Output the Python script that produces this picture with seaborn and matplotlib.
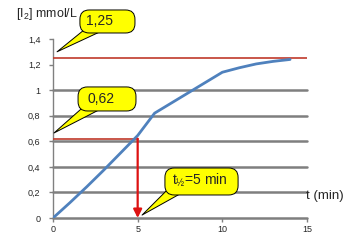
import matplotlib
matplotlib.use("Agg")
import matplotlib.pyplot as plt
from matplotlib.patches import FancyBboxPatch
import seaborn as sns
import pandas as pd

# data
t_min = [0, 1, 2, 3, 4, 5, 6, 7, 8, 9, 10, 11, 12, 13, 14]
iodine = [0, 0.12, 0.245, 0.375, 0.51, 0.645, 0.82, 0.90, 0.98, 1.06, 1.14, 1.175, 1.205, 1.225, 1.24]
c_max = 1.25
c_half = 0.62
t_half = 5
y_ticks = [0, 0.2, 0.4, 0.6, 0.8, 1.0, 1.2, 1.4]
y_tick_labels = ["0", "0,2", "0,4", "0,6", "0,8", "1", "1,2", "1,4"]
x_ticks = [0, 5, 10, 15]
x_tick_labels = ["0", "5", "10", "15"]
callout_texts = ["1,25", "0,62", r"t$_{½}$=5 min"]

sns.set_style("white")
plt.rcParams["font.family"] = ["Liberation Sans", "DejaVu Sans"]
plt.rcParams["mathtext.fontset"] = "custom"
plt.rcParams["mathtext.rm"] = "Liberation Sans"
plt.rcParams["mathtext.it"] = "Liberation Sans"

fig = plt.figure(figsize=(3.48, 2.43), dpi=100)
ax = fig.add_axes([53/348, 1-218/243, (307-53)/348, (218-39)/243])

df = pd.DataFrame({"t": t_min, "c": iodine})
sns.lineplot(data=df, x="t", y="c", ax=ax, color="#4f81bd", linewidth=2.0, zorder=4)

ax.set_xlim(0, 15)
ax.set_ylim(0, 1.4)
ax.set_xticks(x_ticks)
ax.set_xticklabels(x_tick_labels, fontsize=6.5)
ax.set_yticks(y_ticks)
ax.set_yticklabels(y_tick_labels, fontsize=6.5)
ax.set_xlabel("")
ax.set_ylabel("")

for s in ["top", "right", "bottom"]:
    ax.spines[s].set_visible(False)
ax.spines["left"].set_color("#808080")
ax.spines["left"].set_linewidth(1.0)
ax.tick_params(axis="y", length=3, width=1, color="#808080", pad=6, left=True)
ax.tick_params(axis="x", length=3, width=1, color="#808080", pad=2, bottom=True)

# gridlines
for v in y_ticks:
    if v <= 1.0:
        ax.axhline(v, color="#7f7f7f", linewidth=1.8, zorder=1, clip_on=False)

# red reference lines
ax.axhline(c_max, color="#c0392b", linewidth=1.2, zorder=3)
ax.plot([0, t_half], [c_half, c_half], color="#c0392b", linewidth=1.2, zorder=3)
ax.annotate("", xy=(t_half, 0), xytext=(t_half, c_half),
            arrowprops=dict(arrowstyle="-|>,head_length=0.5,head_width=0.25",
                            color="#dd1111", lw=1.6, shrinkA=0, shrinkB=0),
            zorder=5, annotation_clip=False)

# callouts: (text, box (t0, t1, y0, y1), text anchor, ha, wedge start, tip)
aspect = (1.4 / 179) / (15 / 254)
callouts = [
    (callout_texts[0], (1.59, 4.84, 1.447, 1.627), (1.95, 1.54), "left", (2.78, 1.51), (0.24, 1.30)),
    (callout_texts[1], (1.48, 4.90, 0.837, 1.025), (2.01, 0.93), "left", (2.48, 0.884), (0.06, 0.665)),
    (callout_texts[2], (6.61, 10.93, 0.18, 0.391), (8.68, 0.29), "center", (7.38, 0.235), (5.26, 0.023)),
]
for txt, (t0, t1, y0, y1), tpos, ha, base, tip in callouts:
    ax.annotate("", xy=tip, xytext=base,
                arrowprops=dict(arrowstyle="wedge,tail_width=0.9,shrink_factor=0.5",
                                fc="#ffff00", ec="black", lw=0.7, shrinkA=0, shrinkB=0),
                zorder=6, annotation_clip=False)
    box = FancyBboxPatch((t0, y0), t1 - t0, y1 - y0,
                         boxstyle="round,pad=0,rounding_size=0.55",
                         mutation_aspect=aspect, fc="#ffff00", ec="black", lw=0.7,
                         zorder=7, clip_on=False, transform=ax.transData)
    ax.add_patch(box)
    ax.text(tpos[0], tpos[1], txt, ha=ha, va="center", fontsize=10, zorder=8, clip_on=False)

fig.text(16/348, 1-14/243, "[I$_2$] mmol/L", fontsize=9, ha="left", va="center")
fig.text(306/348, 1-196/243, "t (min)", fontsize=9.5, ha="left", va="center")

fig.savefig("out.png", dpi=100)
